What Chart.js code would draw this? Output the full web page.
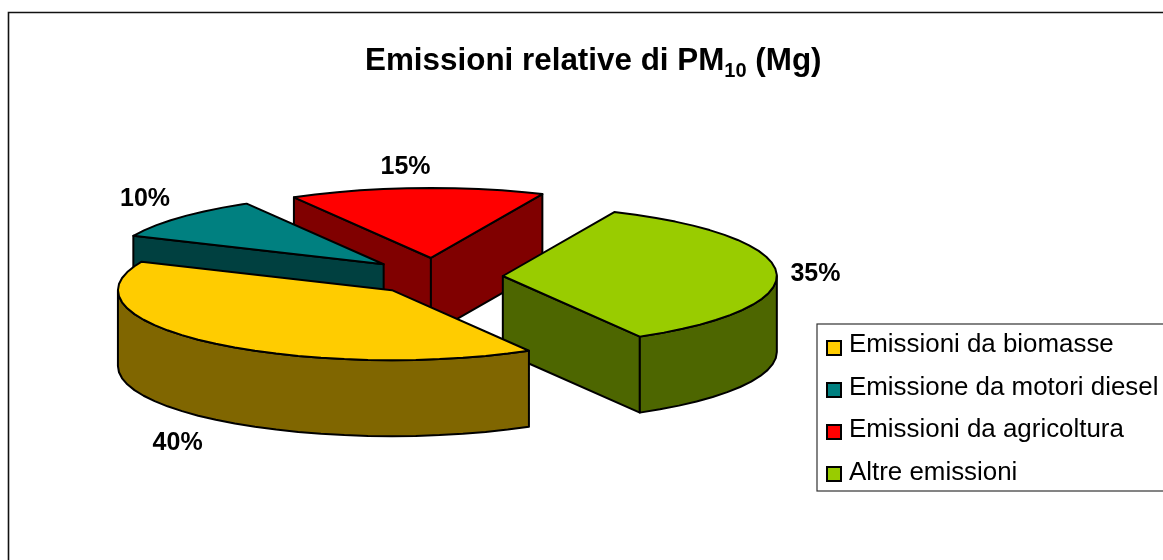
<!DOCTYPE html>
<html>
<head>
<meta charset="utf-8">
<title>Emissioni relative di PM10</title>
<script src="https://cdn.jsdelivr.net/npm/chart.js@4"></script>
<style>
  html, body { margin: 0; padding: 0; background: #fff; overflow: hidden; }
  canvas { display: block; }
</style>
</head>
<body>
<canvas id="myChart" width="1163" height="560"></canvas>
<script>
const categories = ['Emissioni da biomasse', 'Emissione da motori diesel', 'Emissioni da agricoltura', 'Altre emissioni'];
const values = [40, 10, 15, 35];
const topColors = ['#FFCC00', '#008080', '#FF0000', '#99CC00'];
const sideColors = ['#806600', '#004040', '#800000', '#4D6600'];

const FONT = '"Liberation Sans", Arial, sans-serif';
const TILT_X = 274; // half width of the squashed pie
const TILT_Y = 70;  // half height of the squashed pie
const OFFSET_Y = 1.09; // slices move a bit more in y when exploded
const DEPTH = 76;
const STEP = Math.PI / 36;
// where the percent label sits, relative to the middle of the rim
const labelShift = [[-31, 25], [-35, -18], [-11, -21], [39, 2]];

function slicePoints(arc) {
  const mid = (arc.startAngle + arc.endAngle) / 2;
  const off = arc.options.offset / arc.outerRadius;
  const ox = arc.x + Math.cos(mid) * off * TILT_X;
  const oy = arc.y + Math.sin(mid) * off * TILT_Y * OFFSET_Y;
  return {
    ox, oy, mid,
    at: (t) => [ox + Math.cos(t) * TILT_X, oy + Math.sin(t) * TILT_Y]
  };
}

function arcAngles(a, b) {
  const list = [];
  for (let t = a; t < b - 0.001; t += STEP) list.push(t);
  list.push(b);
  return list;
}

function poly(ctx, points, fill) {
  ctx.beginPath();
  points.forEach((p, i) => i ? ctx.lineTo(p[0], p[1]) : ctx.moveTo(p[0], p[1]));
  ctx.closePath();
  ctx.fillStyle = fill;
  ctx.fill();
  ctx.stroke();
}

function drawWall(ctx, s, t, fill) {
  const p = s.at(t);
  poly(ctx, [[s.ox, s.oy], p, [p[0], p[1] + DEPTH], [s.ox, s.oy + DEPTH]], fill);
}

function drawSlice(ctx, arc, index) {
  const s = slicePoints(arc);
  const a = arc.startAngle, b = arc.endAngle;
  ctx.lineWidth = 2;
  ctx.strokeStyle = '#000';
  ctx.lineJoin = 'round';

  if (Math.cos(a) < 0) drawWall(ctx, s, a, sideColors[index]);
  if (Math.cos(b) > 0) drawWall(ctx, s, b, sideColors[index]);

  // front part of the rim only (0..PI on the canvas)
  let start = Math.atan2(Math.sin(a), Math.cos(a));
  let end = start + (b - a);
  const lo = Math.max(start, 0), hi = Math.min(end, Math.PI);
  if (hi > lo) {
    const rim = arcAngles(lo, hi).map(s.at);
    const lower = rim.slice().reverse().map(p => [p[0], p[1] + DEPTH]);
    poly(ctx, rim.concat(lower), sideColors[index]);
  }

  poly(ctx, [[s.ox, s.oy]].concat(arcAngles(a, b).map(s.at)), topColors[index]);
}

const pie3d = {
  id: 'pie3d',
  beforeDraw(chart) {
    const ctx = chart.ctx;
    ctx.save();
    ctx.fillStyle = '#fff';
    ctx.fillRect(0, 0, chart.width, chart.height);
    ctx.strokeStyle = '#111';
    ctx.lineWidth = 1.6;
    ctx.beginPath();
    ctx.moveTo(8.5, chart.height);
    ctx.lineTo(8.5, 12.5);
    ctx.lineTo(chart.width, 12.5);
    ctx.stroke();
    ctx.restore();
  },
  beforeDatasetsDraw(chart) {
    const ctx = chart.ctx;
    const arcs = chart.getDatasetMeta(0).data;
    const order = arcs.map((arc, i) => i)
      .sort((i, j) => slicePoints(arcs[i]).oy - slicePoints(arcs[j]).oy);
    ctx.save();
    order.forEach(i => drawSlice(ctx, arcs[i], i));
    ctx.restore();
    return false; // the library's flat arcs are not wanted
  },
  afterDraw(chart) {
    const ctx = chart.ctx;
    const arcs = chart.getDatasetMeta(0).data;
    const total = values.reduce((a, b) => a + b, 0);
    ctx.save();
    ctx.fillStyle = '#000';
    ctx.textBaseline = 'alphabetic';

    // title, by hand because of the subscript
    ctx.textAlign = 'left';
    ctx.font = 'bold 31.4px ' + FONT;
    ctx.fillText('Emissioni relative di PM', 365, 70);
    let x = 365 + ctx.measureText('Emissioni relative di PM').width;
    ctx.font = 'bold 20px ' + FONT;
    ctx.fillText('10', x, 77);
    x += ctx.measureText('10').width;
    ctx.font = 'bold 31.4px ' + FONT;
    ctx.fillText(' (Mg)', x, 70);

    // percent labels
    ctx.font = 'bold 25px ' + FONT;
    ctx.textAlign = 'center';
    ctx.textBaseline = 'middle';
    arcs.forEach((arc, i) => {
      const s = slicePoints(arc);
      const p = s.at(s.mid);
      const down = Math.sin(s.mid) > 0 ? DEPTH : 0;
      const text = Math.round(values[i] / total * 100) + '%';
      ctx.fillText(text, p[0] + labelShift[i][0], p[1] + down + labelShift[i][1]);
    });

    // legend box, runs off the right side like the original
    ctx.strokeStyle = '#333';
    ctx.lineWidth = 1.2;
    ctx.strokeRect(817, 324, chart.width, 167);
    ctx.font = '25.9px ' + FONT;
    ctx.textAlign = 'left';
    ctx.textBaseline = 'alphabetic';
    categories.forEach((name, i) => {
      const y = 341 + i * 42;
      ctx.fillStyle = topColors[i];
      ctx.strokeStyle = '#000';
      ctx.lineWidth = 2;
      ctx.fillRect(827, y, 14, 14);
      ctx.strokeRect(827, y, 14, 14);
      ctx.fillStyle = '#000';
      ctx.fillText(name, 849, 352 + i * 42.7);
    });
    ctx.restore();
  }
};

new Chart(document.getElementById('myChart'), {
  type: 'pie',
  data: {
    labels: categories,
    datasets: [{
      data: values,
      backgroundColor: topColors,
      borderWidth: 0,
      offset: [51.6, 55.5, 55.5, 55.5]
    }]
  },
  options: {
    responsive: false,
    animation: false,
    rotation: 150,
    layout: { padding: { left: 10, right: 304, top: 27, bottom: 33 } },
    plugins: {
      legend: { display: false },
      tooltip: { enabled: false }
    }
  },
  plugins: [pie3d]
});
</script>
</body>
</html>
